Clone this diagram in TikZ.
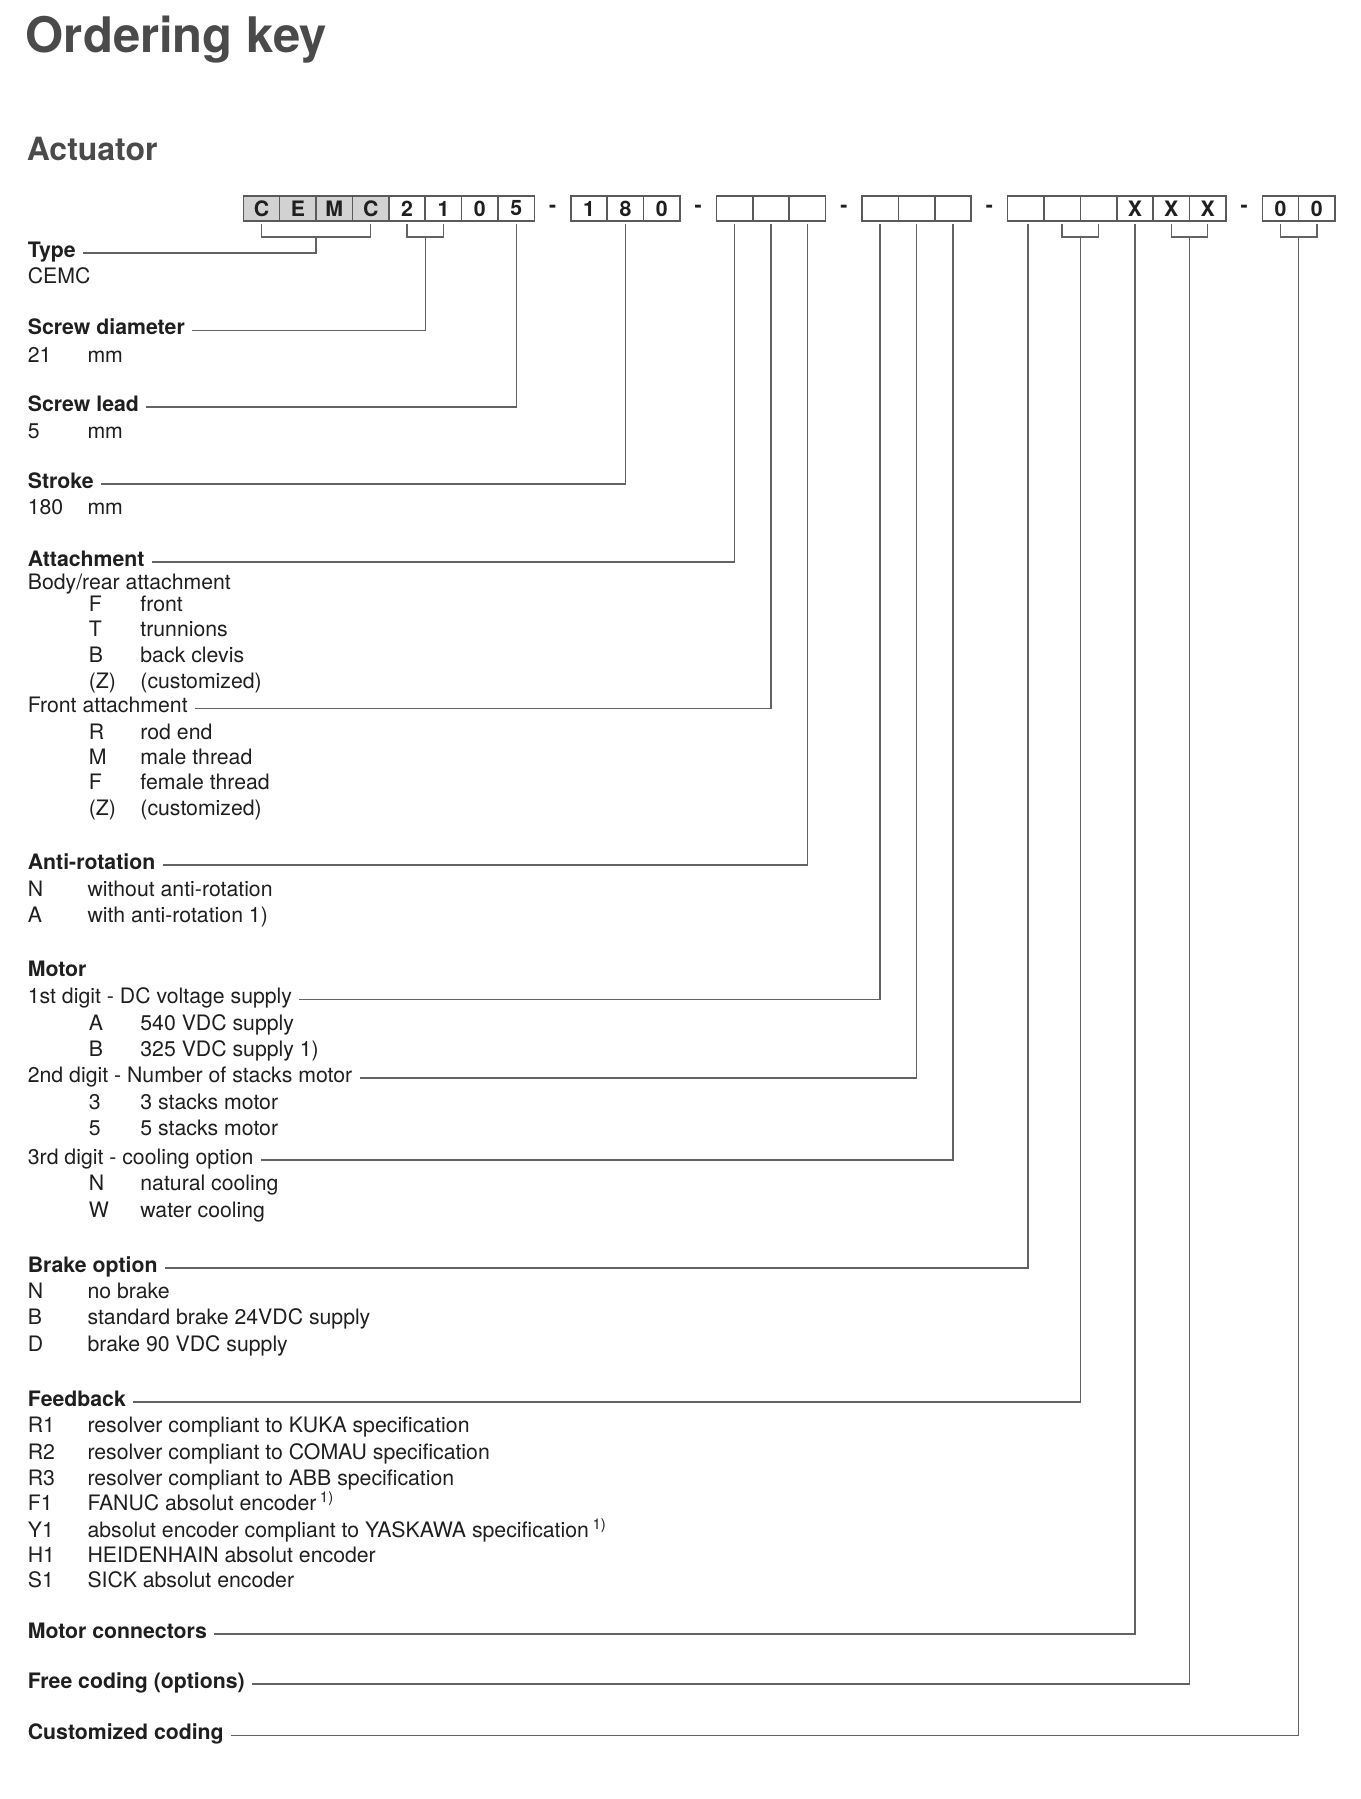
\documentclass[tikz,border=0pt]{standalone}
\usepackage{fontspec}
\setmainfont{TeX Gyre Heros}
\usetikzlibrary{positioning,calc}
\definecolor{titlegrey}{HTML}{4A4A4A}
\definecolor{keyblack}{HTML}{1F1F1F}
\definecolor{boxline}{HTML}{5A5A5A}
\definecolor{boxfill}{HTML}{D2D2D2}
\definecolor{leadline}{HTML}{636363}
\newcommand{\keysize}{\fontsize{12.1}{14.5}\selectfont}
\newcommand{\codeA}[1]{\makebox[1.194cm][l]{#1}}
\newcommand{\codeB}[1]{\makebox[1.032cm][l]{#1}}

\begin{document}
\begin{tikzpicture}[
  x=0.02cm, y=-0.02cm,
  cell/.style={draw=boxline, line width=0.9pt, fill=#1, minimum width=0.728cm, minimum height=0.5cm, inner sep=0pt, outer sep=0pt, font=\keysize\bfseries, text=keyblack},
  cell/.default=white,
  gap/.style={minimum width=0.728cm, minimum height=0.5cm, inner sep=0pt, outer sep=0pt, font=\keysize\bfseries, text=keyblack},
  head/.style={anchor=base west, inner sep=0pt, text height=8.4pt, text depth=3.9pt, font=\keysize\bfseries, text=keyblack},
  item/.style={head, font=\keysize},
  lead/.style={draw=leadline, line width=0.85pt},
  leadin/.style={lead, shorten <=0.14cm}
]
  \useasboundingbox (0,0) rectangle (1361,1799);

  % Titles
  \node[anchor=base west, inner sep=0pt, font=\bfseries\fontsize{27.9}{32}\selectfont, text=titlegrey] (title) at (25.5,52) {Ordering key};
  \node[anchor=base west, inner sep=0pt, font=\bfseries\fontsize{18.2}{21}\selectfont, text=titlegrey] (actuator) at (26.5,160) {Actuator};

  % Code boxes
  \node[cell=boxfill] (t1) at (261.5,208.5) {C};
  \node[cell=boxfill, right=0pt of t1] (t2) {E};
  \node[cell=boxfill, right=0pt of t2] (t3) {M};
  \node[cell=boxfill, right=0pt of t3] (t4) {C};
  \node[cell, right=0pt of t4] (d1) {2};
  \node[cell, right=0pt of d1] (d2) {1};
  \node[cell, right=0pt of d2] (l1) {0};
  \node[cell, right=0pt of l1] (l2) {5};
  \node[gap, right=0pt of l2] (g1) {-};
  \node[cell, right=0pt of g1] (s1) {1};
  \node[cell, right=0pt of s1] (s2) {8};
  \node[cell, right=0pt of s2] (s3) {0};
  \node[gap, right=0pt of s3] (g2) {-};
  \node[cell, right=0pt of g2] (a1) {};
  \node[cell, right=0pt of a1] (a2) {};
  \node[cell, right=0pt of a2] (a3) {};
  \node[gap, right=0pt of a3] (g3) {-};
  \node[cell, right=0pt of g3] (m1) {};
  \node[cell, right=0pt of m1] (m2) {};
  \node[cell, right=0pt of m2] (m3) {};
  \node[gap, right=0pt of m3] (g4) {-};
  \node[cell, right=0pt of g4] (o1) {};
  \node[cell, right=0pt of o1] (o2) {};
  \node[cell, right=0pt of o2] (o3) {};
  \node[cell, right=0pt of o3] (o4) {X};
  \node[cell, right=0pt of o4] (o5) {X};
  \node[cell, right=0pt of o5] (o6) {X};
  \node[gap, right=0pt of o6] (g5) {-};
  \node[cell, right=0pt of g5] (z1) {0};
  \node[cell, right=0pt of z1] (z2) {0};

  % Type, screw, stroke
  \node[head] (type) at (27.5,257) {Type};
  \node[item] (cemc) at (27.5,283.5) {CEMC};
  \node[head] (sdia) at (27.5,334.5) {Screw diameter};
  \node[item] (sdiav) at (27.5,362) {\codeA{21}mm};
  \node[head] (slead) at (27.5,411) {Screw lead};
  \node[item] (sleadv) at (27.5,438.5) {\codeA{5}mm};
  \node[head] (stroke) at (27.5,488) {Stroke};
  \node[item] (strokev) at (27.5,514.5) {\codeA{180}mm};

  % Attachment
  \node[head] (attach) at (27.5,566) {Attachment};
  \node[item] (rear) at (27.5,589.5) {Body/rear attachment};
  \node[item] (rear1) at (88.5,611) {\codeB{F}front};
  \node[item] (rear2) at (88.5,636.5) {\codeB{T}trunnions};
  \node[item] (rear3) at (88.5,662) {\codeB{B}back clevis};
  \node[item] (rear4) at (88.5,688) {\codeB{(Z)}(customized)};
  \node[item] (front) at (27.5,712.5) {Front attachment};
  \node[item] (front1) at (88.5,739) {\codeB{R}rod end};
  \node[item] (front2) at (88.5,764) {\codeB{M}male thread};
  \node[item] (front3) at (88.5,789.5) {\codeB{F}female thread};
  \node[item] (front4) at (88.5,815) {\codeB{(Z)}(customized)};

  % Anti-rotation
  \node[head] (anti) at (27.5,869) {Anti-rotation};
  \node[item] (anti1) at (27.5,896) {\codeA{N}without anti-rotation};
  \node[item] (anti2) at (27.5,922) {\codeA{A}with anti-rotation 1)};

  % Motor
  \node[head] (motor) at (27.5,976.5) {Motor};
  \node[item] (mdig1) at (27.5,1003.5) {1st digit - DC voltage supply};
  \node[item] (mdig1a) at (88.5,1030) {\codeB{A}540 VDC supply};
  \node[item] (mdig1b) at (88.5,1056) {\codeB{B}325 VDC supply 1)};
  \node[item] (mdig2) at (27.5,1082) {2nd digit - Number of stacks motor};
  \node[item] (mdig2a) at (88.5,1109.5) {\codeB{3}3 stacks motor};
  \node[item] (mdig2b) at (88.5,1135.5) {\codeB{5}5 stacks motor};
  \node[item] (mdig3) at (27.5,1164) {3rd digit - cooling option};
  \node[item] (mdig3a) at (88.5,1190) {\codeB{N}natural cooling};
  \node[item] (mdig3b) at (88.5,1217.5) {\codeB{W}water cooling};

  % Brake
  \node[head] (brake) at (27.5,1272) {Brake option};
  \node[item] (brake1) at (27.5,1298) {\codeA{N}no brake};
  \node[item] (brake2) at (27.5,1324.5) {\codeA{B}standard brake 24VDC supply};
  \node[item] (brake3) at (27.5,1351) {\codeA{D}brake 90 VDC supply};

  % Feedback
  \node[head] (feed) at (27.5,1406) {Feedback};
  \node[item] (feed1) at (27.5,1432) {\codeA{R1}resolver compliant to KUKA specification};
  \node[item] (feed2) at (27.5,1459) {\codeA{R2}resolver compliant to COMAU specification};
  \node[item] (feed3) at (27.5,1485) {\codeA{R3}resolver compliant to ABB specification};
  \node[item] (feed4) at (27.5,1510.5) {\codeA{F1}FANUC absolut encoder\,\textsuperscript{1)}};
  \node[item] (feed5) at (27.5,1537) {\codeA{Y1}absolut encoder compliant to YASKAWA specification\,\textsuperscript{1)}};
  \node[item] (feed6) at (27.5,1562) {\codeA{H1}HEIDENHAIN absolut encoder};
  \node[item] (feed7) at (27.5,1587.5) {\codeA{S1}SICK absolut encoder};

  % Last fields
  \node[head] (conn) at (27.5,1638) {Motor connectors};
  \node[head] (free) at (27.5,1688) {Free coding (options)};
  \node[head] (custom) at (27.5,1739.5) {Customized coding};

  % Brackets under grouped boxes
  \draw[lead] ($(t1.south)+(0,3)$) -- ++(0,13) -| ($(t4.south)+(0,3)$);
  \draw[lead] ($(d1.south)+(0,3)$) -- ++(0,13) -| ($(d2.south)+(0,3)$);
  \draw[lead] ($(o2.south)+(0,3)$) -- ++(0,13) -| ($(o3.south)+(0,3)$);
  \draw[lead] ($(o5.south)+(0,3)$) -- ++(0,13) -| ($(o6.south)+(0,3)$);
  \draw[lead] ($(z1.south)+(0,3)$) -- ++(0,13) -| ($(z2.south)+(0,3)$);
  \coordinate (typeb) at ($(t2.south east)+(0,16)$);
  \coordinate (sdiab) at ($(d1.south east)+(0,16)$);
  \coordinate (feedb) at ($(o2.south east)+(0,16)$);
  \coordinate (freeb) at ($(o5.south east)+(0,16)$);
  \coordinate (customb) at ($(z1.south east)+(0,16)$);

  % Leader lines
  \draw[leadin] (type.east) -| (typeb);
  \draw[leadin] (sdia.east) -| (sdiab);
  \draw[leadin] (slead.east) -| ($(l2.south)+(0,3)$);
  \draw[leadin] (stroke.east) -| ($(s2.south)+(0,3)$);
  \draw[leadin] (attach.east) -| ($(a1.south)+(0,3)$);
  \draw[leadin] (front.east) -| ($(a2.south)+(0,3)$);
  \draw[leadin] (anti.east) -| ($(a3.south)+(0,3)$);
  \draw[leadin] (mdig1.east) -| ($(m1.south)+(0,3)$);
  \draw[leadin] (mdig2.east) -| ($(m2.south)+(0,3)$);
  \draw[leadin] (mdig3.east) -| ($(m3.south)+(0,3)$);
  \draw[leadin] (brake.east) -| ($(o1.south)+(2,3)$);
  \draw[leadin] (feed.east) -| (feedb);
  \draw[leadin] (conn.east) -| ($(o4.south)+(0,3)$);
  \draw[leadin] (free.east) -| (freeb);
  \draw[leadin] (custom.east) -| (customb);
\end{tikzpicture}
\end{document}
